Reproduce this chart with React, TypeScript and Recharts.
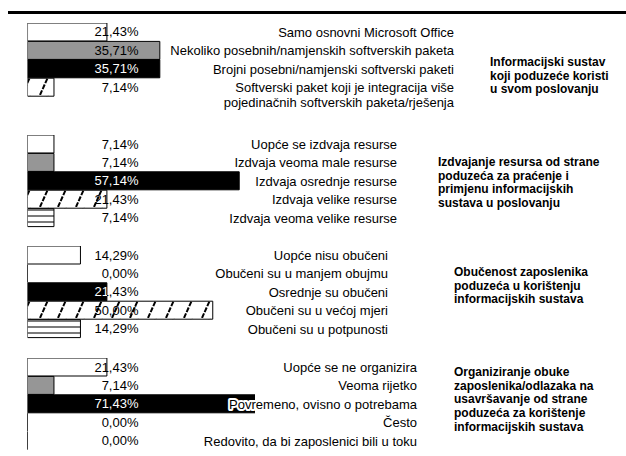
import { BarChart, Bar, XAxis, YAxis, Cell, LabelList } from "recharts";

const FONT = '"Liberation Sans", Arial, sans-serif';

// Informacijski sustav
const sustavCategories = [
  "Samo osnovni Microsoft Office",
  "Nekoliko posebnih/namjenskih softverskih paketa",
  "Brojni posebni/namjenski softverski paketi",
  "Softverski paket koji je integracija više\npojedinačnih softverskih paketa/rješenja",
];
const sustavValues = [21.43, 35.71, 35.71, 7.14];
const sustavTitle = ["Informacijski sustav", "koji poduzeće koristi", "u svom poslovanju"];

// Izdvajanje resursa
const resursiCategories = [
  "Uopće se izdvaja resurse",
  "Izdvaja veoma male resurse",
  "Izdvaja osrednje resurse",
  "Izdvaja velike resurse",
  "Izdvaja veoma velike resurse",
];
const resursiValues = [7.14, 7.14, 57.14, 21.43, 7.14];
const resursiTitle = [
  "Izdvajanje resursa od strane",
  "poduzeća za praćenje i",
  "primjenu informacijskih",
  "sustava u poslovanju",
];

// Obučenost
const obucenostCategories = [
  "Uopće nisu obučeni",
  "Obučeni su u manjem obujmu",
  "Osrednje su obučeni",
  "Obučeni su u većoj mjeri",
  "Obučeni su u potpunosti",
];
const obucenostValues = [14.29, 0, 21.43, 50.0, 14.29];
const obucenostTitle = ["Obučenost zaposlenika", "poduzeća u korištenju", "informacijskih sustava"];

// Organiziranje obuke
const obukaCategories = [
  "Uopće se ne organizira",
  "Veoma rijetko",
  "Povremeno, ovisno o potrebama",
  "Često",
  "Redovito, da bi zaposlenici bili u toku",
];
const obukaValues = [21.43, 7.14, 71.43, 0, 0];
const obukaTitle = [
  "Organiziranje obuke",
  "zaposlenika/odlazaka na",
  "usavršavanje od strane",
  "poduzeća za korištenje",
  "informacijskih sustava",
];

const FILLS = ["#ffffff", "#969696", "#000000", "url(#hatch)", "url(#stripes)"];
const ROW = 18.4;
const PLOT_LEFT = 27.5;
const PLOT_WIDTH = 227.5;
const AXIS_MAX = 61.4;
const EXTRA_BOTTOM = 20; // room for a wrapped last label

const fmt = (v: number) => v.toFixed(2).replace(".", ",") + "%";

function makeValueLabel(sectionId: string) {
  return function ValueLabel(props: any) {
    const { x, y, width, height, value } = props;
    // row index from the bar's position
    const idx = Math.round((y + height / 2 - ROW / 2) / ROW);
    const tx = x + 111;
    const ty = y + height / 2;
    const dark = FILLS[idx] === "#000000" && width > 1;
    const clipId = `vclip-${sectionId}-${idx}`;
    return (
      <g>
        <text x={tx} y={ty} textAnchor="end" dominantBaseline="central" fontSize={13} fontFamily={FONT} fill="#000">
          {fmt(value)}
        </text>
        {dark && (
          <>
            <defs>
              <clipPath id={clipId}>
                <rect x={x} y={y} width={Math.min(width, PLOT_WIDTH)} height={height} />
              </clipPath>
            </defs>
            <text
              x={tx}
              y={ty}
              textAnchor="end"
              dominantBaseline="central"
              fontSize={13}
              fontFamily={FONT}
              fill="#fff"
              clipPath={`url(#${clipId})`}
            >
              {fmt(value)}
            </text>
          </>
        )}
      </g>
    );
  };
}

function makeCategoryLabel(offset: number) {
  return function CategoryLabel(props: any) {
    const { x, y, height, value } = props;
    const lines = String(value).split("\n");
    return (
      <text
        x={x + offset}
        y={y + height / 2}
        textAnchor="end"
        dominantBaseline="central"
        fontSize={13}
        fontFamily={FONT}
        fill="#000"
        stroke="#fff"
        strokeWidth={4}
        strokeLinejoin="round"
        style={{ paintOrder: "stroke" }}
      >
        {lines.map((l, i) => (
          <tspan key={i} x={x + offset} dy={i === 0 ? 0 : 15}>
            {l}
          </tspan>
        ))}
      </text>
    );
  };
}

interface SectionProps {
  id: string;
  categories: string[];
  values: number[];
  title: string[];
  top: number;
  labelRight: number;
  titleLeft: number;
  titleTop: number;
}

function Section({ id, categories, values, title, top, labelRight, titleLeft, titleTop }: SectionProps) {
  const data = categories.map((name, i) => ({ name, value: values[i] }));
  return (
    <>
      <div style={{ position: "absolute", left: 0, top }}>
        <BarChart
          width={626}
          height={categories.length * ROW + EXTRA_BOTTOM}
          data={data}
          layout="vertical"
          margin={{ top: 0, right: 626 - PLOT_LEFT - PLOT_WIDTH, bottom: EXTRA_BOTTOM, left: PLOT_LEFT }}
          barCategoryGap={0}
        >
          <XAxis type="number" hide domain={[0, AXIS_MAX]} allowDataOverflow />
          <YAxis
            type="category"
            dataKey="name"
            width={0}
            tick={false}
            tickLine={false}
            axisLine={{ stroke: "#000", strokeWidth: 1 }}
          />
          <Bar dataKey="value" stroke="#000" strokeWidth={1} minPointSize={0.01} isAnimationActive={false}>
            {data.map((_, i) => (
              <Cell key={i} fill={FILLS[i]} />
            ))}
            <LabelList dataKey="value" content={makeValueLabel(id)} />
            <LabelList dataKey="name" content={makeCategoryLabel(labelRight - PLOT_LEFT)} />
          </Bar>
        </BarChart>
      </div>
      <div
        style={{
          position: "absolute",
          left: titleLeft,
          top: titleTop,
          fontFamily: FONT,
          fontWeight: "bold",
          fontSize: 12,
          lineHeight: "13.7px",
          whiteSpace: "nowrap",
          color: "#000",
        }}
      >
        {title.map((t, i) => (
          <div key={i}>{t}</div>
        ))}
      </div>
    </>
  );
}

export default function App() {
  return (
    <div style={{ position: "absolute", left: 0, top: 0, width: 626, height: 456, background: "#fff" }}>
      <svg width={0} height={0} style={{ position: "absolute" }}>
        <defs>
          <pattern id="hatch" patternUnits="userSpaceOnUse" width={18} height={18}>
            <rect width={18} height={18} fill="#fff" />
            <line x1={4} y1={18} x2={12} y2={0} stroke="#000" strokeWidth={2} strokeDasharray="5 1.5" />
          </pattern>
          <pattern id="stripes" patternUnits="userSpaceOnUse" width={6} height={6}>
            <rect width={6} height={6} fill="#fff" />
            <line x1={0} y1={3} x2={6} y2={3} stroke="#333" strokeWidth={1.3} />
          </pattern>
        </defs>
      </svg>
      <div style={{ position: "absolute", left: 8, top: 10.5, width: 618, height: 3, background: "#000" }} />
      <Section
        id="s1"
        categories={sustavCategories}
        values={sustavValues}
        title={sustavTitle}
        top={23.3}
        labelRight={454}
        titleLeft={490}
        titleTop={56}
      />
      <Section
        id="s2"
        categories={resursiCategories}
        values={resursiValues}
        title={resursiTitle}
        top={135}
        labelRight={397}
        titleLeft={438}
        titleTop={156}
      />
      <Section
        id="s3"
        categories={obucenostCategories}
        values={obucenostValues}
        title={obucenostTitle}
        top={246}
        labelRight={388}
        titleLeft={454}
        titleTop={266}
      />
      <Section
        id="s4"
        categories={obukaCategories}
        values={obukaValues}
        title={obukaTitle}
        top={358}
        labelRight={417}
        titleLeft={454}
        titleTop={366}
      />
    </div>
  );
}
